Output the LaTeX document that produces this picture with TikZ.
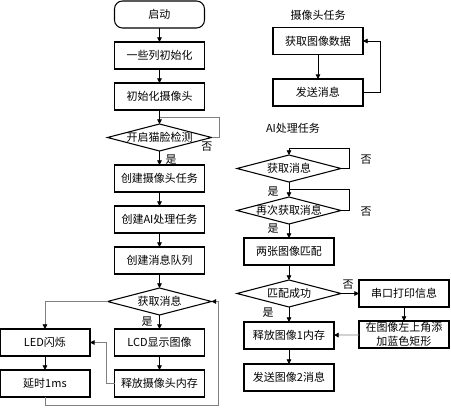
\documentclass[tikz,border=0pt]{standalone}
\usepackage{fontspec}
\setmainfont{Noto Sans CJK SC}
\usetikzlibrary{positioning,arrows.meta,calc,shapes.geometric}

\begin{document}
\begin{tikzpicture}[
  x=0.75pt, y=-0.75pt,
  font=\fontsize{8.25pt}{10pt}\selectfont,
  node distance=10.5pt,
  box/.style={draw, line width=0.8pt, minimum width=67.5pt, minimum height=20.25pt, inner sep=1pt, outer sep=0pt, align=center},
  startbox/.style={box, rounded corners=6pt},
  dec/.style={draw, line width=0.8pt, diamond, aspect=4, inner sep=0pt, outer sep=0pt, minimum width=78pt, minimum height=20.25pt},
  arr/.style={-{Triangle[length=3.5pt,width=3.5pt]}, line width=0.6pt},
  fb/.style={-{Triangle[length=3.5pt,width=3.5pt,color=black]}, line width=0.6pt, draw=gray},
  fbline/.style={line width=0.6pt, draw=gray},
  lbl/.style={inner sep=0pt},
  ]
  \useasboundingbox (0,0) rectangle (451,413);

  % main flow
  \node[startbox] (start) at (159.5,14.5) {启动};
  \node[box, below=of start] (init) {一些列初始化};
  \node[box, below=of init] (cam) {初始化摄像头};
  \node[dec, below=of cam] (face) {\makebox[0pt]{开启猫脸检测}};
  \node[box, below=of face] (mkcam) {创建摄像头任务};
  \node[box, below=of mkcam] (mkai) {创建AI处理任务};
  \node[box, below=of mkai] (mkq) {创建消息队列};
  \node[dec, below=of mkq] (getmsg) {\makebox[0pt]{获取消息}};
  \node[box, below=of getmsg] (lcd) {LCD显示图像};
  \node[box, below=of lcd] (relcam) {释放摄像头内存};
  \node[box, left=18.4pt of lcd] (led) {LED闪烁};
  \node[box, below=of led] (delay) {延时1ms};

  \draw[arr] (start) -- (init);
  \draw[arr] (init) -- (cam);
  \draw[arr] (cam) -- (face);
  \coordinate (j1) at ($(cam.south)!0.5!(face.north)$);
  \draw[fbline] (face.east) -- ++(8,0) |- (j1);
  \draw[arr] (face) -- (mkcam);
  \draw[arr] (mkcam) -- (mkai);
  \draw[arr] (mkai) -- (mkq);
  \draw[arr] (mkq) -- (getmsg);
  \draw[arr] (getmsg) -- (lcd);
  \draw[arr] (lcd) -- (relcam);
  \draw[fb] (getmsg.west) -| (led.north);
  \draw[arr] (led) -- (delay);
  \draw[fb] (relcam.west) -- ++(-8,0) |- (led.east);
  \coordinate (r2) at ($(getmsg.east)+(7,0)$);
  \draw[fb] (delay.south) -- ++(0,8) -| (r2) -- (getmsg.east);

  \node[lbl] (no1) at (207,147) {否};
  \node[lbl] (yes1) at (171,160) {是};
  \node[lbl] (yes2) at (147,322) {是};

  % camera task
  \node (camtitle) at (318,15) {摄像头任务};
  \node[box] (grab) at (318,41) {获取图像数据};
  \node[box, below=18.4pt of grab] (send) {发送消息};
  \draw[arr] (grab) -- (send);
  \draw[arr] (send.east) -- ++(17,0) |- (grab.east);

  % AI task
  \node (aititle) at (293,128) {AI处理任务};
  \node[dec] (aget) at (289,168.5) {\makebox[0pt]{获取消息}};
  \node[dec, below=11.25pt of aget] (aget2) {\makebox[0pt]{再次获取消息}};
  \node[box, below=of aget2] (match) {两张图像匹配};
  \node[dec, below=11.25pt of match] (ok) {\makebox[0pt]{匹配成功}};
  \node[box, right=13.5pt of ok] (uart) {串口打印信息};
  \node[box, below=of uart] (rect) {在图像左上角添\\加蓝色矩形};
  \node[box, below=11.25pt of ok] (rel1) {释放图像1内存};
  \node[box, below=11.25pt of rel1] (send2) {发送图像2消息};

  \coordinate (ja) at ($(aget.north)+(0,-7)$);
  \draw[arr] (aget.east) -- ++(8,0) |- (ja) -- (aget.north);
  \draw[arr] (aget) -- (aget2);
  \coordinate (jb) at ($(aget.south)!0.5!(aget2.north)$);
  \draw[line width=0.6pt] (aget2.east) -- ++(8,0) |- (jb);
  \draw[arr] (aget2) -- (match);
  \draw[arr] (match) -- (ok);
  \draw[arr] (ok) -- (uart);
  \draw[arr] (uart) -- (rect);
  \draw[fb] (rect) -- (rel1);
  \draw[arr] (ok) -- (rel1);
  \draw[arr] (rel1) -- (send2);

  \node[lbl] (no2) at (366,160) {否};
  \node[lbl] (no3) at (366,212) {否};
  \node[lbl] (yes3) at (273,192) {是};
  \node[lbl] (yes4) at (273,229) {是};
  \node[lbl] (no4) at (348,285) {否};
  \node[lbl] (yes5) at (268,313) {是};
\end{tikzpicture}
\end{document}
